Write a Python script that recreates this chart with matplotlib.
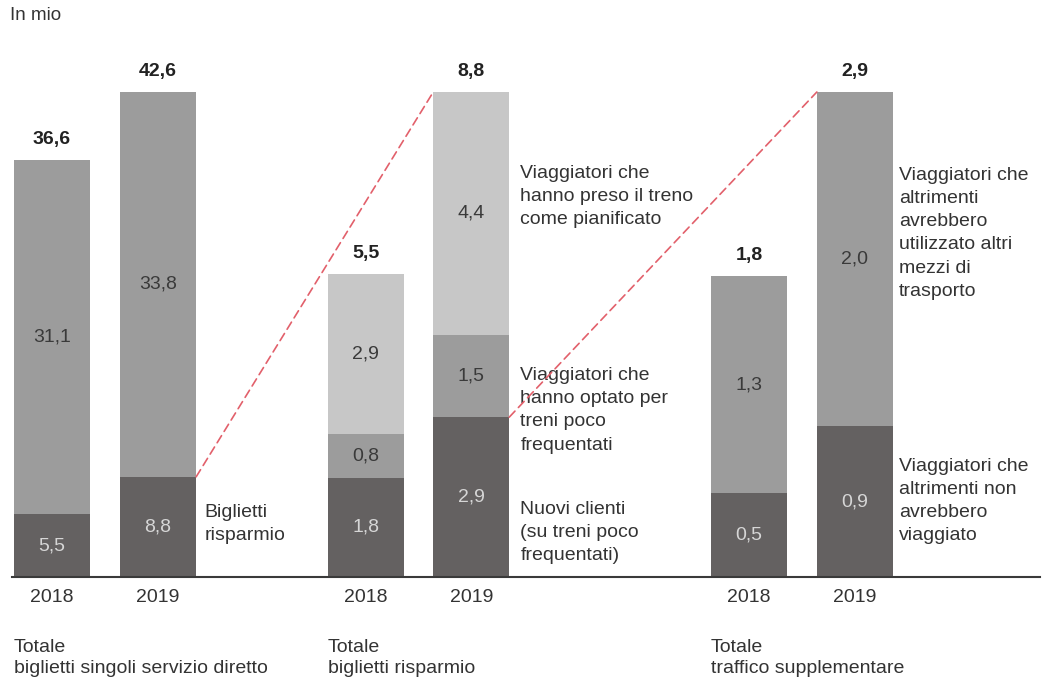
import matplotlib
matplotlib.use("Agg")
import matplotlib.pyplot as plt
from matplotlib.lines import Line2D
from matplotlib.patches import ConnectionPatch

plt.rcParams["font.family"] = ["Liberation Sans", "DejaVu Sans"]

years = ["2018", "2019"]

# Totale biglietti singoli servizio diretto
g1_dark = [5.5, 8.8]
g1_mid = [31.1, 33.8]
g1_total = [36.6, 42.6]

# Totale biglietti risparmio
g2_dark = [1.8, 2.9]
g2_mid = [0.8, 1.5]
g2_light = [2.9, 4.4]
g2_total = [5.5, 8.8]

# Totale traffico supplementare
g3_dark = [0.5, 0.9]
g3_mid = [1.3, 2.0]
g3_total = [1.8, 2.9]

group_titles = ["Totale\nbiglietti singoli servizio diretto",
                "Totale\nbiglietti risparmio",
                "Totale\ntraffico supplementare"]

dark = "#646161"
mid = "#9c9c9c"
light = "#c7c7c7"
txt = "#333333"
red = "#e2606b"

W, H = 1046, 679
fig = plt.figure(figsize=(W / 100, H / 100), dpi=100)

base_px = 577
top_px = 92
bottom = 1 - base_px / H
height = (base_px - top_px) / H
bw = 0.72


def fmt(v):
    return f"{v:.1f}".replace(".", ",")


def make_group(left_px, span_px, segments, totals, title):
    ax = fig.add_axes([left_px / W, bottom, span_px / W, height])
    ax.set_xlim(-0.5, 1.5)
    ax.set_ylim(0, max(totals))
    ax.axis("off")
    x = [0, 1]
    start = [0, 0]
    for vals, col in segments:
        ax.bar(x, vals, bw, bottom=start, color=col, linewidth=0)
        for i in range(2):
            tc = "#d6d6d6" if col == dark else "#3a3a3a"
            ax.text(x[i], start[i] + vals[i] / 2, fmt(vals[i]), ha="center",
                    va="center", fontsize=14, color=tc)
        start = [start[i] + vals[i] for i in range(2)]
    for i in range(2):
        ax.annotate(fmt(totals[i]), (x[i], totals[i]), xytext=(0, 15),
                    textcoords="offset points", ha="center", va="center",
                    fontsize=14, fontweight="bold", color="#222222",
                    annotation_clip=False)
        ax.text(x[i], -0.043, years[i], transform=ax.get_xaxis_transform(),
                ha="center", va="center", fontsize=14, color=txt)
    ax.text(-0.36, -0.128, title, transform=ax.get_xaxis_transform(),
            ha="left", va="top", fontsize=14, color=txt, linespacing=1.27)
    return ax


ax1 = make_group(-1, 212, [(g1_dark, dark), (g1_mid, mid)], g1_total, group_titles[0])
ax2 = make_group(313, 211, [(g2_dark, dark), (g2_mid, mid), (g2_light, light)], g2_total, group_titles[1])
ax3 = make_group(696, 212, [(g3_dark, dark), (g3_mid, mid)], g3_total, group_titles[2])


def note(ax, xpos, ytop, s):
    ax.text(xpos, ytop, s, transform=ax.get_xaxis_transform(), ha="left",
            va="top", fontsize=14, color=txt, linespacing=1.48, clip_on=False)


note(ax1, 1.44, 0.151, "Biglietti\nrisparmio")
note(ax2, 1.465, 0.850, "Viaggiatori che\nhanno preso il treno\ncome pianificato")
note(ax2, 1.465, 0.433, "Viaggiatori che\nhanno optato per\ntreni poco\nfrequentati")
note(ax2, 1.465, 0.157, "Nuovi clienti\n(su treni poco\nfrequentati)")
note(ax3, 1.415, 0.846, "Viaggiatori che\naltrimenti\navrebbero\nutilizzato altri\nmezzi di\ntrasporto")
note(ax3, 1.415, 0.246, "Viaggiatori che\naltrimenti non\navrebbero\nviaggiato")

# dashed links between the groups
c1 = ConnectionPatch((1 + bw / 2, g1_dark[1]), (1 - bw / 2, g2_total[1]),
                     "data", "data", axesA=ax1, axesB=ax2, color=red,
                     linestyle=(0, (5, 3)), linewidth=1.2)
fig.add_artist(c1)
c2 = ConnectionPatch((1 + bw / 2, g2_dark[1]), (1 - bw / 2, g3_total[1]),
                     "data", "data", axesA=ax2, axesB=ax3, color=red,
                     linestyle=(0, (5, 3)), linewidth=1.2)
fig.add_artist(c2)

fig.add_artist(Line2D([12 / W, 1040 / W], [bottom, bottom], transform=fig.transFigure,
                      color="#3a3a3a", linewidth=1.5))

fig.text(10 / W, 1 - 16 / H, "In mio", ha="left", va="center", fontsize=13.5, color=txt)

fig.savefig("out.png", dpi=100)
